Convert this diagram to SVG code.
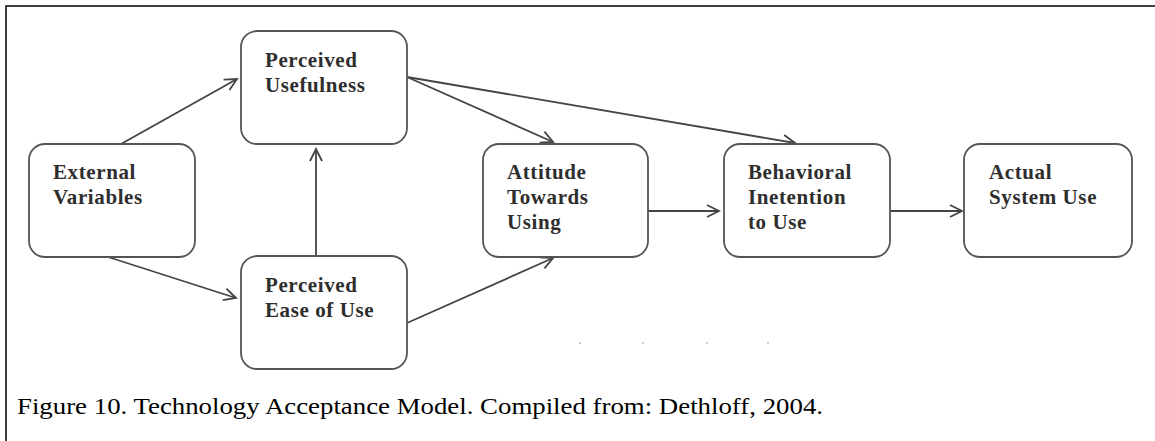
<svg xmlns="http://www.w3.org/2000/svg" width="1155" height="441" viewBox="0 0 1155 441">
<style>
.box{fill:#fff;stroke:#555;stroke-width:1.8}
.lbl{font-family:"Times New Roman","Liberation Serif",Tinos,serif;font-weight:bold;font-size:21px;letter-spacing:0.6px;fill:#2e2e2e}
.con{stroke:#444;stroke-width:1.8;fill:none}
.cap{font-family:"Times New Roman","Liberation Serif",Tinos,serif;font-size:24px;fill:#000}
</style>
<defs>
<marker id="ah" viewBox="-2 -8 16 16" refX="12" refY="0" markerWidth="16" markerHeight="16" markerUnits="userSpaceOnUse" orient="auto">
<path d="M0,-6 L12,0 L0,6" fill="none" stroke="#444" stroke-width="1.8"/>
</marker>
</defs>
<rect width="1155" height="441" fill="#fff"/>
<path d="M6,441 V6 H1155" fill="none" stroke="#000" stroke-width="1.5"/>
<g id="connectors">
<line class="con" x1="121" y1="144" x2="237" y2="79" marker-end="url(#ah)"/>
<line class="con" x1="105" y1="256" x2="236" y2="298" marker-end="url(#ah)"/>
<line class="con" x1="316" y1="256" x2="316" y2="149" marker-end="url(#ah)"/>
<line class="con" x1="407" y1="77" x2="553" y2="142" marker-end="url(#ah)"/>
<line class="con" x1="407" y1="77" x2="795" y2="143" marker-end="url(#ah)"/>
<line class="con" x1="407" y1="323" x2="553" y2="258" marker-end="url(#ah)"/>
<line class="con" x1="648" y1="211" x2="719" y2="211" marker-end="url(#ah)"/>
<line class="con" x1="890" y1="211" x2="962" y2="211" marker-end="url(#ah)"/>
</g>
<g id="ext">
<rect class="box" x="29" y="144" width="166" height="113" rx="16"/>
<text class="lbl" x="53" y="179">External</text>
<text class="lbl" x="53" y="204">Variables</text>
</g>
<g id="pu">
<rect class="box" x="241" y="31" width="166" height="113" rx="16"/>
<text class="lbl" x="265" y="67">Perceived</text>
<text class="lbl" x="265" y="92">Usefulness</text>
</g>
<g id="peou">
<rect class="box" x="241" y="256" width="166" height="113" rx="16"/>
<text class="lbl" x="265" y="292">Perceived</text>
<text class="lbl" x="265" y="317">Ease of Use</text>
</g>
<g id="att">
<rect class="box" x="483" y="144" width="165" height="113" rx="16"/>
<text class="lbl" x="507" y="179">Attitude</text>
<text class="lbl" x="507" y="204">Towards</text>
<text class="lbl" x="507" y="229">Using</text>
</g>
<g id="bi">
<rect class="box" x="724" y="144" width="166" height="113" rx="16"/>
<text class="lbl" x="748" y="179">Behavioral</text>
<text class="lbl" x="748" y="204">Inetention</text>
<text class="lbl" x="748" y="229">to Use</text>
</g>
<g id="asu">
<rect class="box" x="964" y="144" width="168" height="113" rx="16"/>
<text class="lbl" x="989" y="179">Actual</text>
<text class="lbl" x="989" y="204">System Use</text>
</g>
<g fill="#ccc">
<rect x="579" y="342" width="2" height="2"/>
<rect x="642" y="342" width="2" height="2"/>
<rect x="706" y="342" width="2" height="2"/>
<rect x="767" y="342" width="2" height="2"/>
</g>
<text class="cap" x="17" y="414" textLength="806" lengthAdjust="spacingAndGlyphs">Figure 10. Technology Acceptance Model. Compiled from: Dethloff, 2004.</text>
</svg>
